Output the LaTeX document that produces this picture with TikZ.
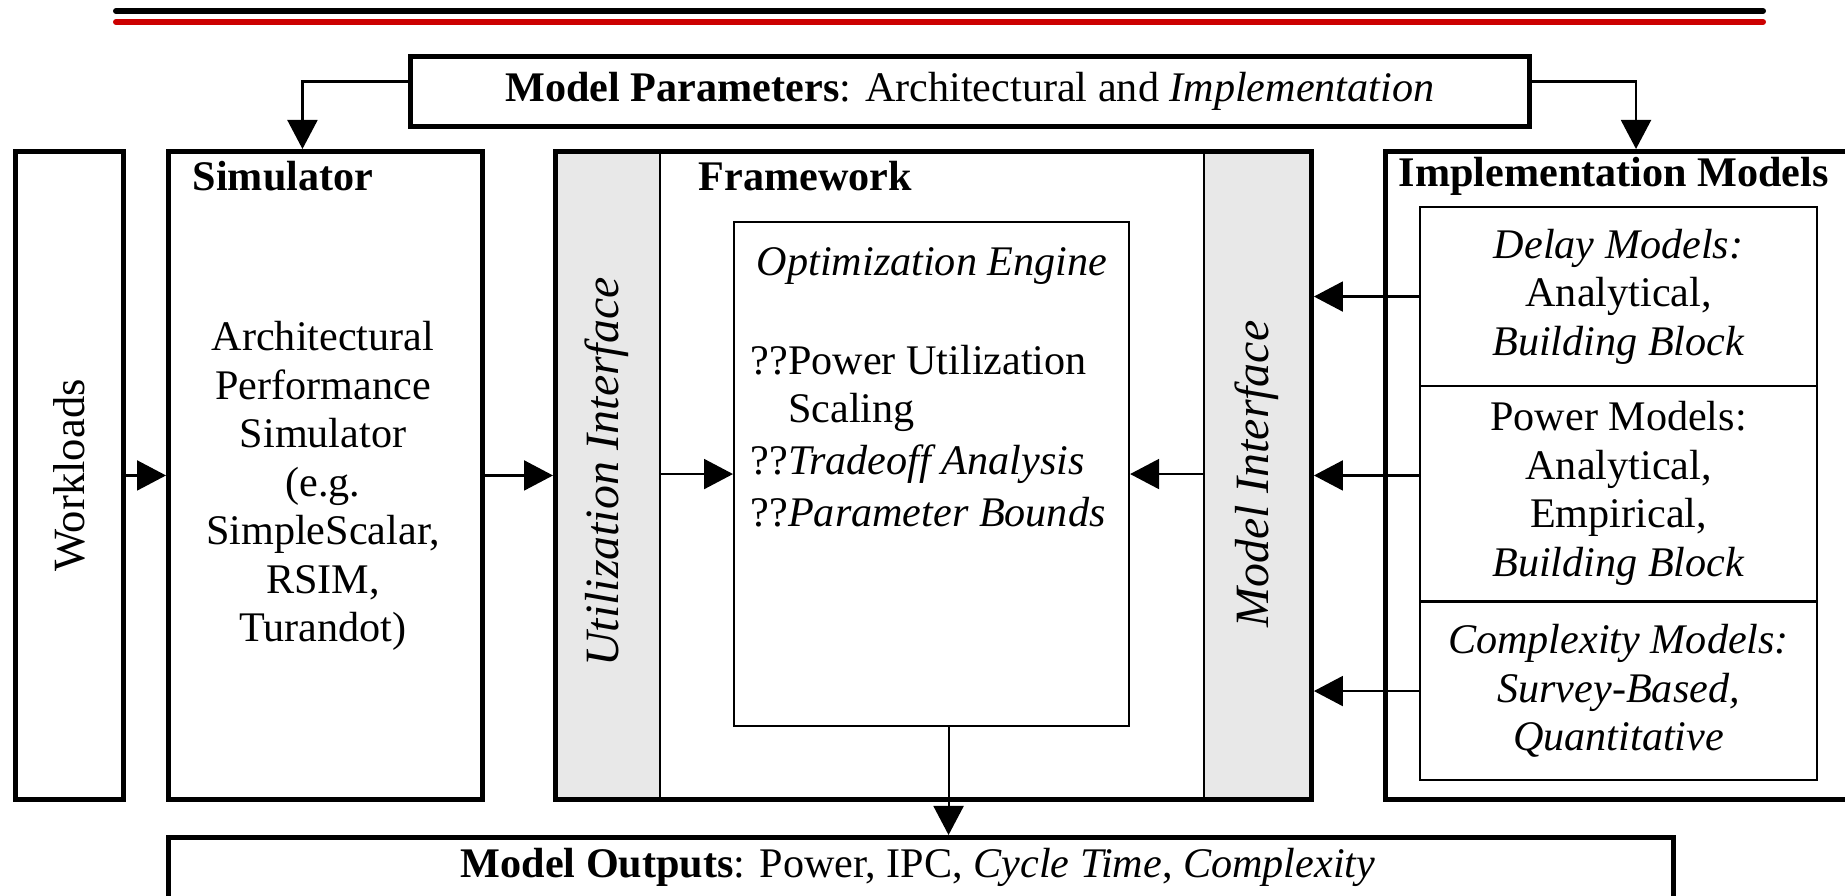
\documentclass[tikz,border=0pt]{standalone}
\usepackage{fontspec}
\setmainfont{Liberation Serif}
\usepackage{tikz}
\usetikzlibrary{arrows.meta,positioning}
\definecolor{stripgray}{RGB}{232,232,232}
\definecolor{barred}{RGB}{204,0,0}

\begin{document}
\begin{tikzpicture}[
	font=\fontsize{12}{13.8}\selectfont,
	box/.style={draw, line width=1.4pt, inner sep=0pt, anchor=north west},
	thinbox/.style={draw, line width=0.6pt, inner sep=0pt, anchor=north west},
	flow/.style={line width=0.6pt, -{Triangle[length=2.9mm,width=3mm]}}
]
	\useasboundingbox (0,0) rectangle (18.45,-8.96);
	
	\draw[line width=1.7pt, line cap=round] (1.16,-0.11) -- (17.63,-0.11);
	\draw[line width=1.7pt, line cap=round, barred] (1.16,-0.22) -- (17.63,-0.22);
	
	\node[box, minimum width=11.19cm, minimum height=0.70cm] (par) at (4.08,-0.54) {\textbf{Model Parameters}: Architectural and \textit{Implementation}};
	
	\node[box, minimum width=1.08cm, minimum height=6.48cm] (work) at (0.13,-1.49) {};
	\node[rotate=90, font=\fontsize{12.7}{14}\selectfont] (workt) at (work.center) {Workloads};
	
	\node[box, minimum width=3.14cm, minimum height=6.48cm] (sim) at (1.66,-1.49) {};
	\node[anchor=west, inner sep=0pt] (simt) at (1.92,-1.76) {\textbf{Simulator}};
	\node[align=center] (simb) at (3.23,-4.86) {Architectural\\Performance\\Simulator\\(e.g.\\SimpleScalar,\\RSIM,\\Turandot)};
	
	\node[thinbox, fill=stripgray, minimum width=1.06cm, minimum height=6.48cm] (ui) at (5.53,-1.49) {};
	\node[thinbox, fill=stripgray, minimum width=1.06cm, minimum height=6.48cm] (mi) at (12.03,-1.49) {};
	\node[box, minimum width=7.56cm, minimum height=6.48cm] (fw) at (5.53,-1.49) {};
	\node[anchor=west, inner sep=0pt] (fwt) at (6.98,-1.76) {\textbf{Framework}};
	\node[rotate=90, font=\fontsize{13.6}{15}\selectfont] (uit) at ([yshift=0.02cm]ui.center) {\textit{Utilization Interface}};
	\node[rotate=90, font=\fontsize{13.6}{15}\selectfont] (mit) at (mi.center) {\textit{Model Interface}};
	
	\node[thinbox, minimum width=3.95cm, minimum height=5.04cm] (opt) at (7.33,-2.21) {};
	\node (optt) at (9.32,-2.66) {\textit{Optimization Engine}};
	\node[anchor=west, align=left, inner sep=0pt] (optl) at (7.50,-4.36) {??Power Utilization\\\phantom{??}Scaling\\[1pt]??\textit{Tradeoff Analysis}\\[1pt]??\textit{Parameter Bounds}};
	
	\node[box, minimum width=4.70cm, minimum height=6.48cm] (impl) at (13.83,-1.49) {};
	\node[anchor=west, inner sep=0pt] (implt) at (13.98,-1.76) {\textbf{Implementation Models}};
	\node[thinbox, align=center, minimum width=3.97cm, minimum height=1.79cm] (delay) at (14.19,-2.06) {\textit{Delay Models:}\\Analytical,\\\textit{Building Block}};
	\node[thinbox, align=center, minimum width=3.97cm, minimum height=2.15cm] (power) at (14.19,-3.85) {Power Models:\\Analytical,\\Empirical,\\\textit{Building Block}};
	\node[thinbox, align=center, minimum width=3.97cm, minimum height=1.78cm] (cplx) at (14.19,-6.01) {\textit{Complexity Models:}\\\textit{Survey-Based,}\\\textit{Quantitative}};
	
	\node[box, minimum width=15.05cm, minimum height=1.20cm] (out) at (1.66,-8.35) {};
	\node (outt) at (9.18,-8.67) {\textbf{Model Outputs}: Power, IPC, \textit{Cycle Time}, \textit{Complexity}};
	
	\draw[flow] ([yshift=0.10cm]par.west) -| ([xshift=-0.23cm]sim.north);
	\draw[flow] ([yshift=0.10cm]par.east) -| ([xshift=2.53cm]impl.north west);
	\draw[flow] (work.east) -- (sim.west);
	\draw[flow] (sim.east) -- (fw.west);
	\draw[flow] (ui.east) -- (opt.west);
	\draw[flow] (mi.west) -- (opt.east);
	\draw[flow] (delay.west) -- (delay.west -| fw.east);
	\draw[flow] (power.west |- fw.east) -- (fw.east);
	\draw[flow] (cplx.west) -- (cplx.west -| fw.east);
	\draw[flow] ([xshift=0.17cm]opt.south) -- ([xshift=0.17cm]opt.south |- out.north);
	
\end{tikzpicture}
\end{document}
